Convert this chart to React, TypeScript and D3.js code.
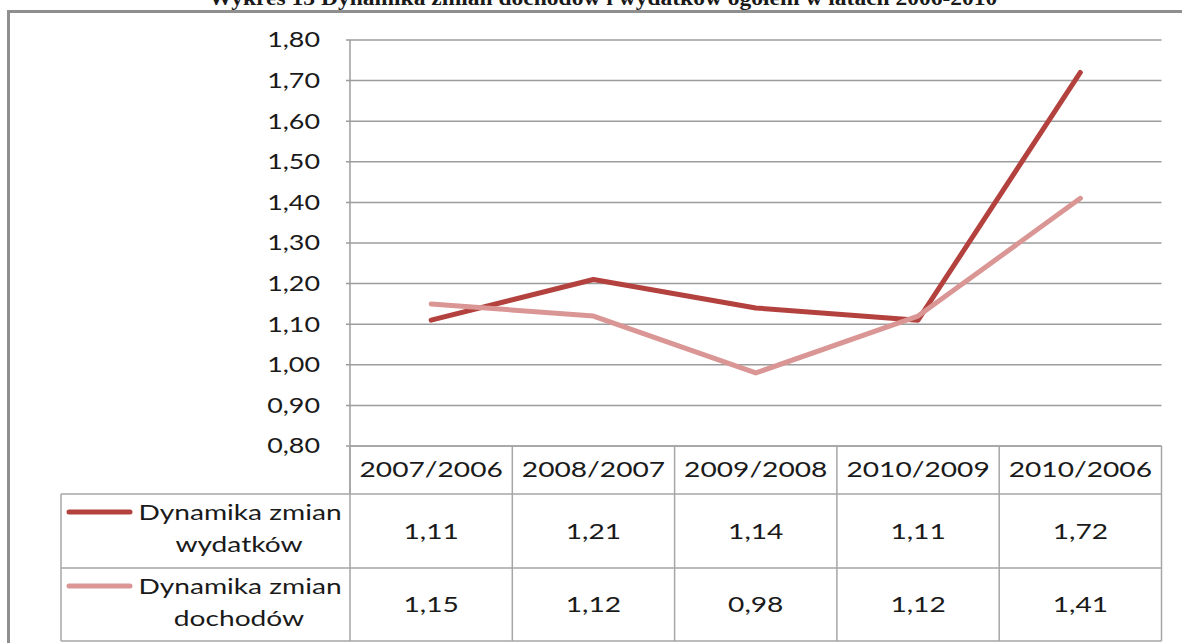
import React from "react";
import * as d3 from "d3";

const title = "Wykres 13 Dynamika zmian dochodów i wydatków ogółem w latach 2006-2010";
const categories = ["2007/2006", "2008/2007", "2009/2008", "2010/2009", "2010/2006"];
const wydatki = [1.11, 1.21, 1.14, 1.11, 1.72];
const dochody = [1.15, 1.12, 0.98, 1.12, 1.41];
const yTicks = [0.8, 0.9, 1.0, 1.1, 1.2, 1.3, 1.4, 1.5, 1.6, 1.7, 1.8];
const seriesNames = [
  ["Dynamika zmian", "wydatków"],
  ["Dynamika zmian", "dochodów"],
];
const seriesColors = ["#B3423F", "#D99694"];

const W = 1182;
const H = 643;
const FONT = "Lato, 'Open Sans', sans-serif";
const SX = 1.28;

const locale = d3.formatLocale({ decimal: ",", thousands: " ", grouping: [3], currency: ["", " zł"] });
const fmt = locale.format(".2f");

function SText({ x, y, children, anchor = "middle", size = 22, sx = SX, weight = "normal", family = FONT }: any) {
  return (
    <g transform={`translate(${x},${y}) scale(${sx},1)`}>
      <text textAnchor={anchor} fontFamily={family} fontSize={size} fontWeight={weight} fill="#1a1a1a" dy="0.35em">
        {children}
      </text>
    </g>
  );
}

export default function App() {
  const plotLeft = 350;
  const plotRight = 1161.5;
  const plotTop = 40;
  const plotBottom = 446;
  const headerBottom = 494;
  const row1Bottom = 568;
  const tableBottom = 641;
  const legendLeft = 61;

  const x = d3.scaleBand<string>().domain(categories).range([plotLeft, plotRight]).padding(0);
  const y = d3.scaleLinear().domain([0.8, 1.8]).range([plotBottom, plotTop]);
  const cx = (c: string) => (x(c) as number) + x.bandwidth() / 2;

  const line = d3
    .line<number>()
    .x((_, i) => cx(categories[i]))
    .y((d) => y(d));

  const series = [wydatki, dochody];
  const rowTops = [headerBottom, row1Bottom];
  const rowBottoms = [row1Bottom, tableBottom];
  const grid = "#9c9c9c";
  const border = "#a6a6a6";

  return (
    <svg width={W} height={H} style={{ position: "absolute", left: 0, top: 0, background: "#fff" }}>
      <rect x={0} y={0} width={W} height={H} fill="#fff" />
      {/* title (cut off at top) */}
      <SText x={603} y={-2} size={21} sx={1.12} weight="bold" family="'Liberation Serif', 'Times New Roman', serif">
        {title}
      </SText>
      {/* outer frame */}
      <rect x={8.5} y={11.5} width={1300} height={800} fill="none" stroke="#8f8f8f" strokeWidth={3} />

      {/* gridlines */}
      {yTicks.map((t) => (
        <g key={t}>
          <line x1={plotLeft - 4} x2={plotRight} y1={y(t)} y2={y(t)} stroke={grid} strokeWidth={1.5} />
          <SText x={320} y={y(t)} anchor="end" size={21}>
            {fmt(t)}
          </SText>
        </g>
      ))}
      {/* y axis */}
      <line x1={plotLeft} x2={plotLeft} y1={plotTop} y2={headerBottom} stroke={grid} strokeWidth={1.5} />

      {/* table */}
      <line x1={plotLeft} x2={plotRight} y1={plotBottom} y2={plotBottom} stroke={border} strokeWidth={1.5} />
      <line x1={legendLeft} x2={plotRight} y1={headerBottom} y2={headerBottom} stroke={border} strokeWidth={1.5} />
      <line x1={legendLeft} x2={plotRight} y1={row1Bottom} y2={row1Bottom} stroke={border} strokeWidth={1.5} />
      <line x1={legendLeft} x2={plotRight} y1={tableBottom} y2={tableBottom} stroke={border} strokeWidth={1.5} />
      <line x1={legendLeft} x2={legendLeft} y1={headerBottom} y2={tableBottom} stroke={border} strokeWidth={1.5} />
      {categories.map((c) => (
        <line key={c} x1={x(c)} x2={x(c)} y1={plotBottom} y2={tableBottom} stroke={border} strokeWidth={1.5} />
      ))}
      <line x1={plotRight} x2={plotRight} y1={plotBottom} y2={tableBottom} stroke={border} strokeWidth={1.5} />

      {categories.map((c) => (
        <SText key={c} x={cx(c)} y={469} size={22}>
          {c}
        </SText>
      ))}

      {series.map((s, si) => (
        <g key={si}>
          <line
            x1={69}
            x2={130}
            y1={rowTops[si] + 18}
            y2={rowTops[si] + 18}
            stroke={seriesColors[si]}
            strokeWidth={5}
            strokeLinecap="round"
          />
          <SText x={240} y={rowTops[si] + 18} size={22}>
            {seriesNames[si][0]}
          </SText>
          <SText x={239} y={rowTops[si] + 50} size={22}>
            {seriesNames[si][1]}
          </SText>
          {s.map((v, i) => (
            <SText key={i} x={cx(categories[i])} y={(rowTops[si] + rowBottoms[si]) / 2} size={22}>
              {fmt(v)}
            </SText>
          ))}
        </g>
      ))}

      {/* lines */}
      {series.map((s, si) => (
        <path
          key={si}
          d={line(s) as string}
          fill="none"
          stroke={seriesColors[si]}
          strokeWidth={5}
          strokeLinejoin="round"
          strokeLinecap="round"
        />
      ))}
    </svg>
  );
}
